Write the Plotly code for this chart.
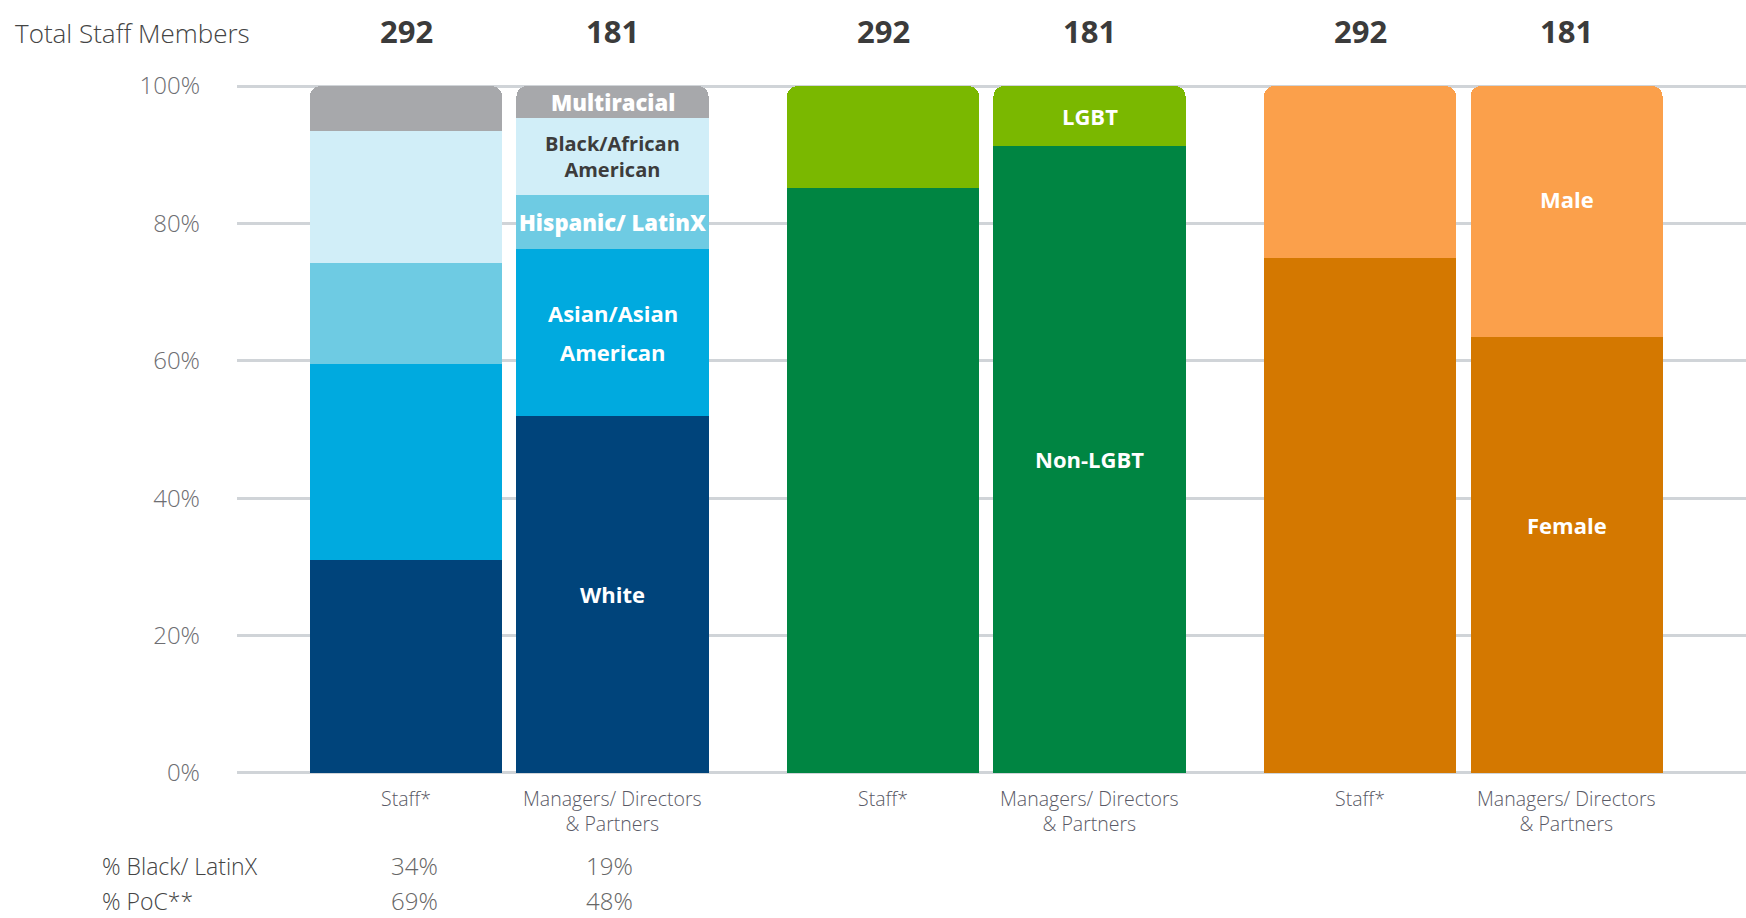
import plotly.graph_objects as go

# ---------------- data ----------------
categories = ["Staff*", "Managers/ Directors<br>& Partners"]
totals = [292, 181]

race_labels = ["White", "Asian/Asian<br>American", "Hispanic/ LatinX", "Black/African<br>American", "Multiracial"]
race_staff = [31.0, 28.5, 14.7, 19.2, 6.6]
race_mgr = [52.0, 24.3, 7.9, 11.1, 4.7]

lgbt_labels = ["Non-LGBT", "LGBT"]
lgbt_staff = [85.2, 14.8]
lgbt_mgr = [91.3, 8.7]

gender_labels = ["Female", "Male"]
gender_staff = [75.0, 25.0]
gender_mgr = [63.5, 36.5]

row_labels = ["% Black/ LatinX", "% PoC**"]
black_latinx = ["34%", "19%"]
poc = ["69%", "48%"]

y_ticks = [0, 20, 40, 60, 80, 100]

# ---------------- style ----------------
race_colors = ["#00447b", "#00aadf", "#6ecbe3", "#d1eef8", "#a7a8ab"]
race_text_colors = ["white", "white", "white", "#3c3c3c", "white"]
lgbt_colors = ["#008542", "#7ab800"]
gender_colors = ["#d47800", "#fba04b"]
FONT = "Open Sans"
GRID = "#d0d4d8"
GROUP_STEP = 2.31
BAR_W = 0.93

# labels split into separately placed lines (px spacing); others use <br>
split_gap = {"Asian/Asian<br>American": 39}
label_offset = {"Male": 12, "Female": 30}
heavy = {"Multiracial", "Hispanic/ LatinX"}

groups = [
    (race_labels, race_staff, race_mgr, race_colors, race_text_colors),
    (lgbt_labels, lgbt_staff, lgbt_mgr, lgbt_colors, ["white", "white"]),
    (gender_labels, gender_staff, gender_mgr, gender_colors, ["white", "white"]),
]

fig = go.Figure()
annotations = []

for g, (labels, staff, mgr, colors, tcolors) in enumerate(groups):
    xs = [g * GROUP_STEP + m for m in range(2)]
    cum = 0.0
    for i, lab in enumerate(labels):
        fig.add_trace(go.Bar(
            x=xs, y=[staff[i], mgr[i]], width=BAR_W,
            marker=dict(color=colors[i], line=dict(width=0)),
            name=lab.replace("<br>", " "), hoverinfo="skip", showlegend=False,
        ))
        mid = cum + mgr[i] / 2
        cum += mgr[i]
        if lab in split_gap:
            lines = lab.split("<br>")
            gap = split_gap[lab]
        else:
            lines = [lab]
            gap = 0
        n = len(lines)
        multi = "<br>" in lab and lab not in split_gap
        for k, line in enumerate(lines):
            annotations.append(dict(
                x=xs[1], y=mid, xref="x", yref="y", text=line,
                showarrow=False, xanchor="center", yanchor="middle",
                yshift=((n - 1) / 2 - k) * gap + label_offset.get(lab, 0),
                font=dict(family=FONT, size=20 if multi else 22, color=tcolors[i],
                          weight=800 if lab in heavy else 700),
            ))
    for m in range(2):
        annotations.append(dict(
            x=xs[m], y=100, xref="x", yref="y", text="<b>%d</b>" % totals[m],
            showarrow=False, xanchor="center", yanchor="middle", yshift=55,
            font=dict(family=FONT, size=31, color="#3b3b3b"),
        ))
        annotations.append(dict(
            x=xs[m], y=0, xref="x", yref="y", text=categories[m],
            showarrow=False, xanchor="center", yanchor="top", yshift=-10,
            font=dict(family=FONT, size=19.5, color="#5a5a66", weight=300),
        ))

annotations.append(dict(
    x=0, y=100, xref="paper", yref="y", text="Total Staff Members",
    showarrow=False, xanchor="left", yanchor="middle", xshift=-224, yshift=53,
    font=dict(family=FONT, size=26, color="#444444", weight=300),
))

row_vals = [black_latinx, poc]
row_shift = [-93, -128]
col_shift = [8, -3]
for r, lab in enumerate(row_labels):
    annotations.append(dict(
        x=0, y=0, xref="paper", yref="y", text=lab,
        showarrow=False, xanchor="left", yanchor="middle", xshift=-137, yshift=row_shift[r],
        font=dict(family=FONT, size=23, color="#444444", weight=300),
    ))
    for m in range(2):
        annotations.append(dict(
            x=m, y=0, xref="x", yref="y", text=row_vals[r][m],
            showarrow=False, xanchor="center", yanchor="middle",
            xshift=col_shift[m], yshift=row_shift[r],
            font=dict(family=FONT, size=24, color="#666666", weight=300),
        ))

x_min = -(406 - 237) / 206.5
x_max = x_min + 1509 / 206.5

fig.update_layout(
    width=1746, height=918,
    margin=dict(l=237, r=0, t=84, b=143),
    paper_bgcolor="white", plot_bgcolor="white",
    barmode="stack", barcornerradius=10,
    annotations=annotations,
    xaxis=dict(range=[x_min, x_max], showgrid=False, zeroline=False,
               showticklabels=False, showline=False, fixedrange=True),
    yaxis=dict(range=[-0.3, 100.3], tickmode="array", tickvals=y_ticks,
               ticktext=["%d%%" % v for v in y_ticks],
               showgrid=True, gridcolor=GRID, gridwidth=2.5,
               zeroline=True, zerolinecolor=GRID, zerolinewidth=2.5,
               showline=False, ticks="", ticklabelstandoff=36,
               tickfont=dict(family=FONT, size=24, color="#6e6e72", weight=300),
               fixedrange=True),
)

fig.write_html("out.html", config={"displayModeBar": False},
               post_script="document.body.style.margin='0';document.body.style.overflow='hidden';")
